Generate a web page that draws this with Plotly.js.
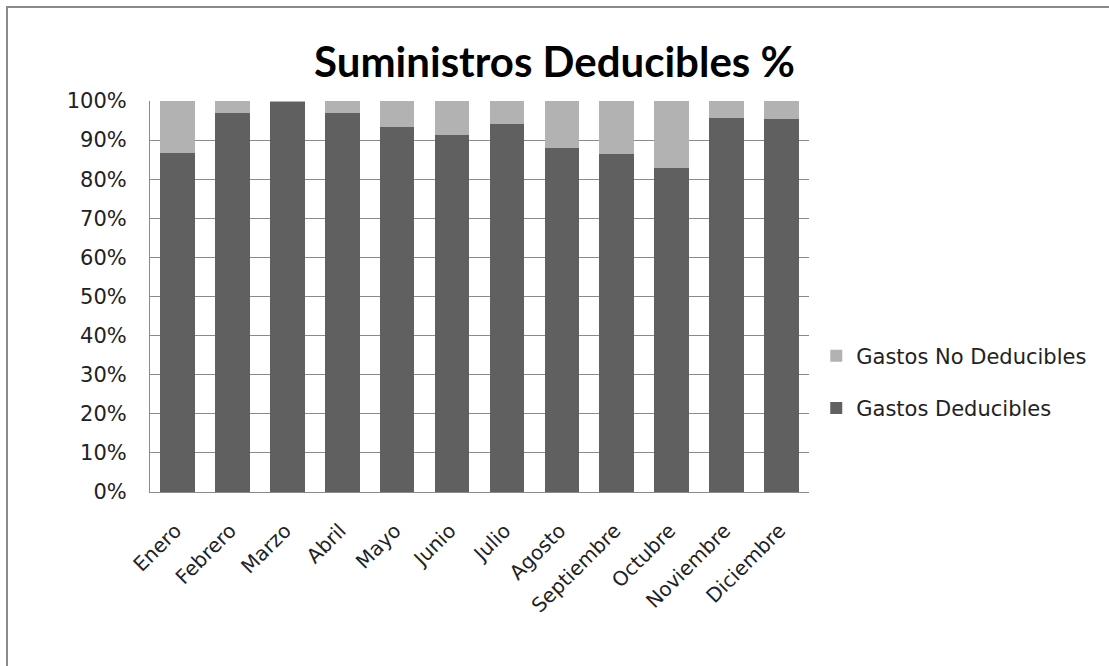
<!DOCTYPE html>
<html>
<head>
<meta charset="utf-8">
<script src="https://cdn.plot.ly/plotly-3.0.1.min.js"></script>
<style>
  html, body { margin: 0; padding: 0; background: #fff; overflow: hidden; }
  #wrap { position: relative; width: 1109px; height: 666px; }
  #chart { position: absolute; left: 0; top: 0; width: 1109px; height: 666px; }
  #frame { position: absolute; left: 6px; top: 6px; width: 1300px; height: 900px;
           border-left: 2px solid #8a8a8a; border-top: 2px solid #8a8a8a; pointer-events: none; }
</style>
</head>
<body>
<div id="wrap">
  <div id="chart"></div>
  <div id="frame"></div>
</div>
<script>
const months = ["Enero", "Febrero", "Marzo", "Abril", "Mayo", "Junio", "Julio",
                "Agosto", "Septiembre", "Octubre", "Noviembre", "Diciembre"];
const gastosDeducibles   = [86.8, 97.0, 99.7, 97.0, 93.3, 91.4, 94.0, 88.0, 86.4, 82.8, 95.6, 95.3];
const gastosNoDeducibles = [13.2, 3.0, 0.3, 3.0, 6.7, 8.6, 6.0, 12.0, 13.6, 17.2, 4.4, 4.7];
const yTicks = [0, 10, 20, 30, 40, 50, 60, 70, 80, 90, 100];

const font = "DejaVu Sans, sans-serif";

const traces = [
  {
    type: "bar", name: "Gastos Deducibles", x: months, y: gastosDeducibles,
    marker: { color: "#606060", line: { width: 0 } }, legendgroup: "a", legendrank: 2,
    hoverinfo: "none"
  },
  {
    type: "bar", name: "Gastos No Deducibles", x: months, y: gastosNoDeducibles,
    marker: { color: "#b2b2b2", line: { width: 0 } }, legendgroup: "b", legendrank: 1,
    hoverinfo: "none"
  }
];

const layout = {
  width: 1109, height: 666,
  margin: { l: 150, r: 300, t: 101, b: 174, pad: 0 },
  paper_bgcolor: "rgba(0,0,0,0)", plot_bgcolor: "#fff",
  barmode: "stack", bargap: 0.37,
  font: { family: font, color: "#222" },
  title: {
    text: "Suministros Deducibles %",
    font: { family: "Lato, sans-serif", size: 42, color: "#000", weight: "bold" },
    x: 0.5, xref: "container", xanchor: "center",
    y: 1 - 62 / 666, yref: "container", yanchor: "middle"
  },
  xaxis: {
    type: "category", tickangle: -45, tickfont: { family: font, size: 20, color: "#222" },
    showline: true, linecolor: "#8a8a8a", linewidth: 1, showgrid: false,
    ticks: "", ticklen: 0, ticklabelstandoff: 18, ticklabelshift: -2,
    automargin: false, fixedrange: true
  },
  yaxis: {
    range: [0, 100], tickvals: yTicks, ticktext: yTicks.map(v => v + "%"),
    tickfont: { family: font, size: 21, color: "#222" },
    showline: true, linecolor: "#8a8a8a", linewidth: 1,
    showgrid: true, gridcolor: "#8a8a8a", gridwidth: 1, zeroline: false,
    ticks: "", ticklen: 0, ticklabelstandoff: 18, automargin: false, fixedrange: true
  },
  showlegend: true,
  legend: {
    x: 1.011, xanchor: "left", y: 0.281, yanchor: "middle",
    traceorder: "grouped", tracegroupgap: 22,
    font: { family: font, size: 21, color: "#222" },
    bgcolor: "rgba(0,0,0,0)", itemwidth: 30
  }
};

Plotly.newPlot("chart", traces, layout, { staticPlot: true, displayModeBar: false });
</script>
</body>
</html>
